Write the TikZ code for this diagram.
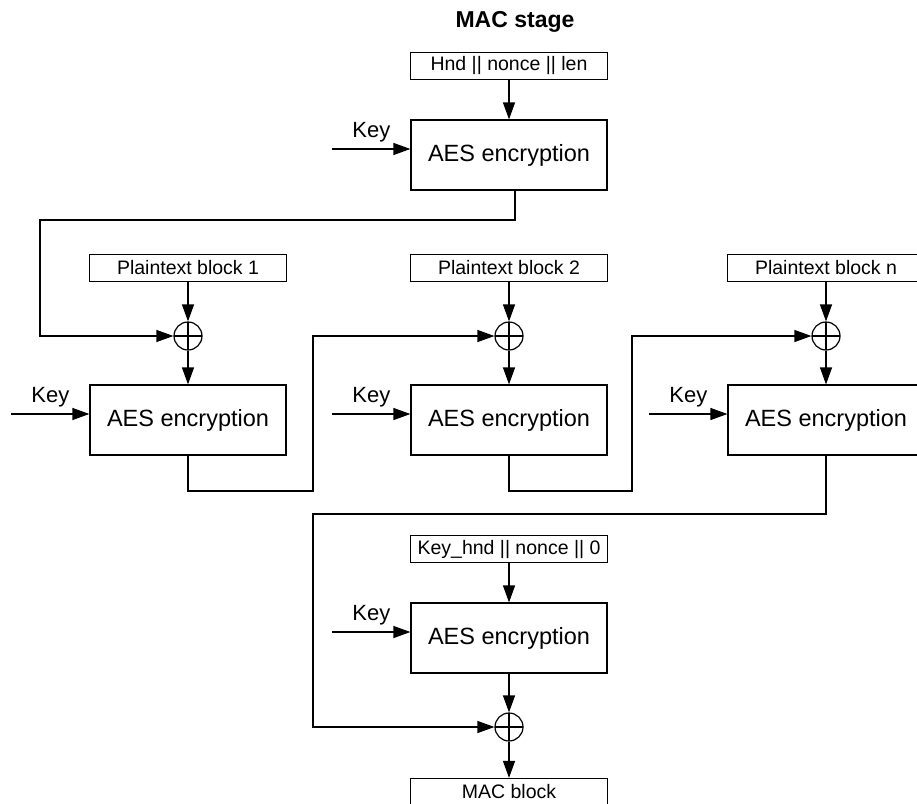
\documentclass[tikz,border=0pt]{standalone}
\usepackage{fontspec}
\setmainfont{Liberation Sans}
\usetikzlibrary{
    arrows.meta,
    positioning
}
\tikzset{
  aesbox/.style={draw, minimum width=196pt, minimum height=70pt, inner sep=0pt,
    font=\fontsize{23.5}{26}\selectfont},
  inbox/.style={draw, minimum width=197pt, minimum height=27pt, inner sep=0pt,
    font=\fontsize{19.5}{22}\selectfont},
  xorop/.style={draw, circle, minimum size=28pt, inner sep=0pt,
    path picture={\draw (path picture bounding box.north) -- (path picture bounding box.south)
      (path picture bounding box.west) -- (path picture bounding box.east);}},
  keylbl/.style={font=\fontsize{22}{24}\selectfont},
  flow/.style={-{Triangle[length=17pt,width=12pt]}}
}

\begin{document}
\begin{tikzpicture}[x=1pt,y=-1pt,line width=1.2pt]
\useasboundingbox (0,0) rectangle (917,803);
\clip (0,0) rectangle (917,803);

\node[font=\bfseries\fontsize{23}{26}\selectfont] (title) at (515,22) {MAC stage};

\node[inbox] (hnd) at (509,66) {Hnd || nonce || len};
\node[aesbox] (aes0) at (509,155) {AES encryption};

\node[inbox] (pt1) at (188,268) {Plaintext block 1};
\node[inbox] (pt2) at (509,268) {Plaintext block 2};
\node[inbox] (ptn) at (826,268) {Plaintext block n};

\node[xorop] (xor1) at (188,336) {};
\node[xorop] (xor2) at (509,336) {};
\node[xorop] (xorn) at (826,336) {};

\node[aesbox] (aes1) at (188,420) {AES encryption};
\node[aesbox] (aes2) at (509,420) {AES encryption};
\node[aesbox] (aesn) at (826,420) {AES encryption};

\node[inbox] (khnd) at (509,549) {Key\_hnd || nonce || 0};
\node[aesbox] (aesf) at (509,638) {AES encryption};
\node[xorop] (xorf) at (509,727) {};
\node[inbox] (mac) at (509,792) {MAC block};

\coordinate (t0) at (40,220);
\coordinate (b1) at (313,491);
\coordinate (b2) at (632,491);
\coordinate (bn) at (313,514);

\draw[flow] (hnd) -- (aes0);
\draw[flow] ([xshift=6pt]aes0.south) |- (t0) |- (xor1.west);

\draw[flow] (pt1) -- (xor1);
\draw[flow] (pt2) -- (xor2);
\draw[flow] (ptn) -- (xorn);
\draw[flow] (xor1) -- (aes1);
\draw[flow] (xor2) -- (aes2);
\draw[flow] (xorn) -- (aesn);

\draw[flow] (aes1.south) |- (b1) |- (xor2.west);
\draw[flow] (aes2.south) |- (b2) |- (xorn.west);
\draw[flow] (aesn.south) |- (bn) |- (xorf.west);

\draw[flow] (khnd) -- (aesf);
\draw[flow] (aesf) -- (xorf);
\draw[flow] (xorf) -- (mac);

\foreach \b in {aes0,aes1,aes2,aesn,aesf}
  \draw[flow] ([xshift=-78pt,yshift=6pt]\b.west) -- ([yshift=6pt]\b.west)
    node[keylbl, midway, above=3pt] {Key};
\end{tikzpicture}
\end{document}
